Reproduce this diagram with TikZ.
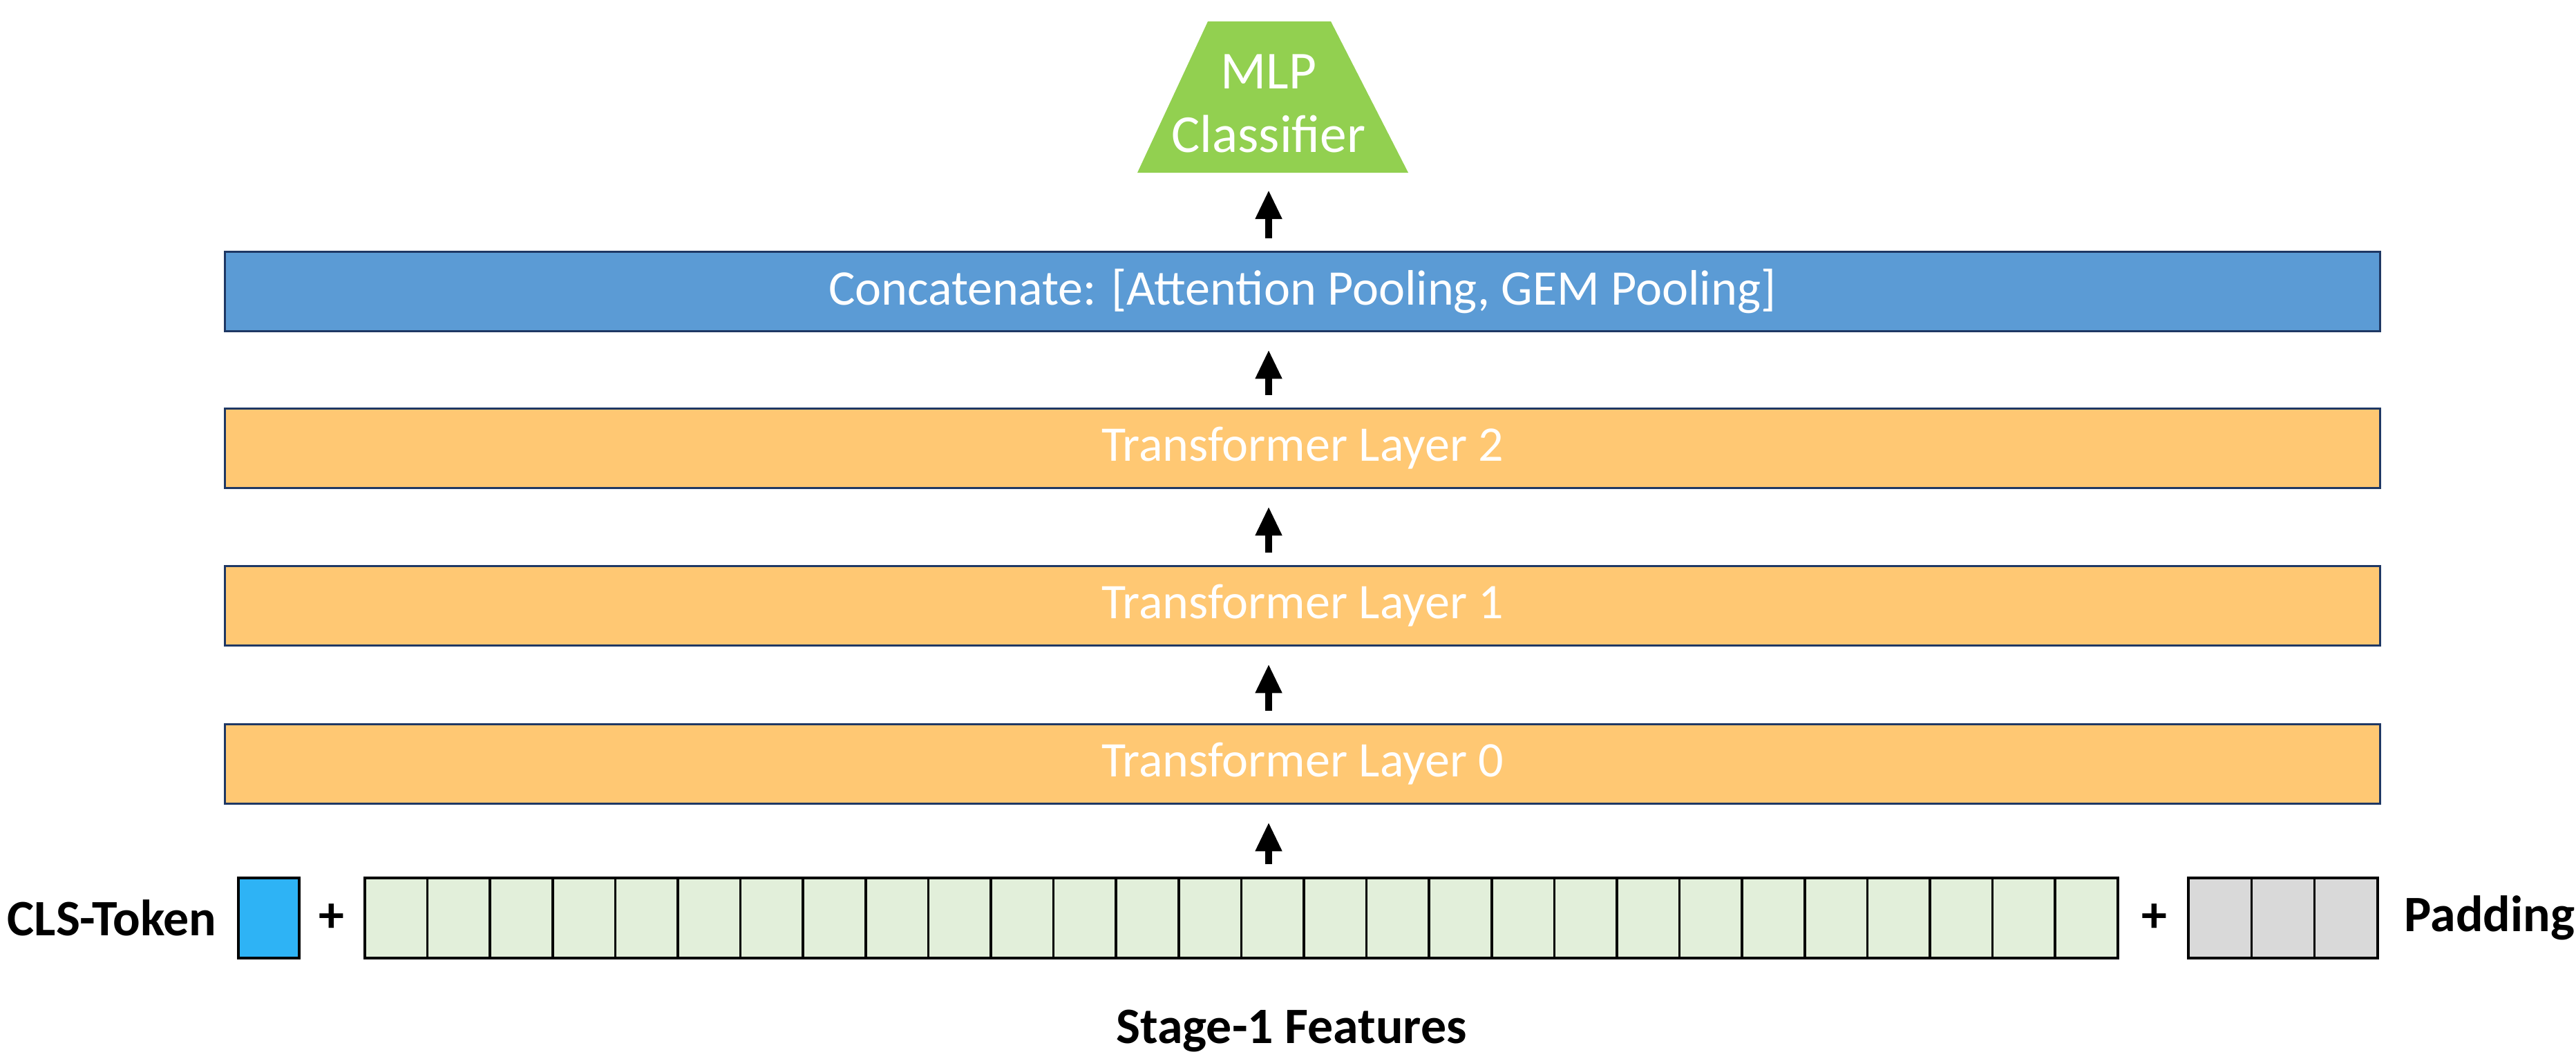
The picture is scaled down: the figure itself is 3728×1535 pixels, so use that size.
\documentclass[tikz,border=0pt]{standalone}
\usepackage{fontspec}
\setmainfont{Carlito}
\usetikzlibrary{shapes.geometric}
\usetikzlibrary{arrows.meta}
\usetikzlibrary{calc}
\usetikzlibrary{positioning}

\definecolor{layerorange}{RGB}{255,200,115}
\definecolor{concatblue}{RGB}{91,155,213}
\definecolor{mlpgreen}{RGB}{146,208,80}
\definecolor{featgreen}{RGB}{226,239,218}
\definecolor{padgray}{RGB}{217,217,217}
\definecolor{clsblue}{RGB}{46,179,245}
\definecolor{edgenavy}{RGB}{31,56,100}

\tikzset{
  layer/.style={draw=edgenavy, line width=1pt, minimum width=31.17cm, minimum height=1.15cm,
    inner sep=0pt, text=white, font=\fontsize{20.5}{24}\selectfont},
  token/.style={draw=black, line width=1pt, minimum height=1.16cm, inner sep=0pt},
  label/.style={font=\bfseries\fontsize{21}{24}\selectfont, inner sep=0pt},
  up/.style={-{Triangle[width=0.36cm,length=0.42cm]}, line width=3pt, shorten >=0.25cm, shorten <=0.18cm}
}

\begin{document}
\begin{tikzpicture}[x=0.01cm, y=-0.01cm]
  \useasboundingbox (0,0) rectangle (3728,1535);

  % Klassifikator oben
  \fill[mlpgreen] (1646,250) -- (1748,31) -- (1926,31) -- (2038,250) -- cycle;
  \node[text=white, align=center, inner sep=0pt, font=\fontsize{22}{26}\selectfont] (mlp) at (1836,150) {MLP\\Classifier};
  \coordinate (mlpbase) at (1836,250);

  % Schichten
  \node[layer, fill=concatblue] (concat) at (1885,422) {Concatenate: [Attention Pooling, GEM Pooling]};
  \node[layer, fill=layerorange] (layer2) at (1885,649) {Transformer Layer 2};
  \node[layer, fill=layerorange] (layer1) at (1885,877) {Transformer Layer 1};
  \node[layer, fill=layerorange] (layer0) at (1885,1106) {Transformer Layer 0};

  % Token-Reihe
  \node[token, fill=clsblue, minimum width=0.88cm] (cls) at (389,1329) {};
  \foreach \i in {0,...,27}
    \node[token, fill=featgreen, minimum width=0.906cm] (cell\i) at ({573.3+90.6*\i},1329) {};
  \foreach \i in {0,1,2}
    \node[token, fill=padgray, minimum width=0.913cm] (pad\i) at ({3212.7+91.3*\i},1329) {};

  \node[label] (clslabel) at (162,1329) {CLS-Token};
  \node[label] (plusA) at (480,1329) {+};
  \node[label] (plusB) at (3118,1329) {+};
  \node[label] (padlabel) at (3603,1329) {Padding};
  \node[label] (feat) at (1869,1493) {Stage-1 Features};

  % Pfeile
  \draw[up] (cell14.north -| mlpbase) -- (layer0.south -| mlpbase);
  \draw[up] (layer0.north -| mlpbase) -- (layer1.south -| mlpbase);
  \draw[up] (layer1.north -| mlpbase) -- (layer2.south -| mlpbase);
  \draw[up] (layer2.north -| mlpbase) -- (concat.south -| mlpbase);
  \draw[up] (concat.north -| mlpbase) -- (mlpbase);
\end{tikzpicture}
\end{document}
